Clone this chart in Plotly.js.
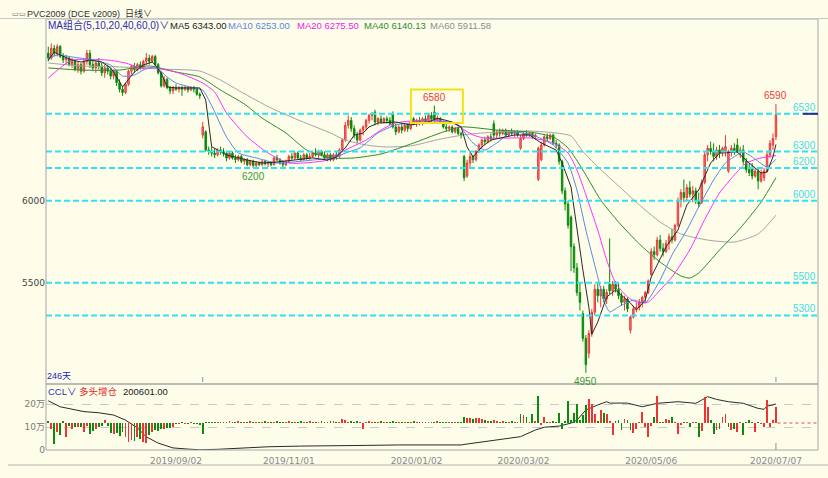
<!DOCTYPE html>
<html><head><meta charset="utf-8">
<script src="https://cdn.plot.ly/plotly-3.0.1.min.js"></script>
<style>html,body{margin:0;padding:0;background:#fdfdea;}#chart{width:828px;height:478px;}</style>
</head><body><div id="chart"></div>
<script>
// ---------- data ----------
const tickIdx = [43, 81, 124, 160, 203, 245];
const tickLabels = ['2019/09/02', '2019/11/01', '2020/01/02', '2020/03/02', '2020/05/06', '2020/07/07'];

const opens = [
6900,6870,6930,6900,6940,6880,6860,6870,6830,6850,
6800,6830,6790,6850,6900,6830,6810,6840,6820,6780,
6810,6790,6760,6790,6720,6680,6660,6710,6790,6820,
6800,6830,6810,6850,6870,6850,6880,6830,6780,6700,
6740,6690,6670,6690,6680,6690,6680,6690,6675,6690,
6680,6650,6400,6420,6310,6300,6290,6280,6310,6300,
6290,6260,6290,6260,6250,6270,6240,6250,6220,6240,
6215,6230,6220,6240,6225,6230,6220,6260,6250,6230,
6220,6240,6270,6260,6290,6260,6250,6280,6260,6270,
6290,6280,6300,6280,6260,6280,6250,6280,6270,6310,
6370,6460,6490,6440,6400,6370,6430,6450,6490,6520,
6540,6480,6500,6480,6500,6490,6530,6450,6420,6450,
6430,6460,6440,6500,6470,6490,6470,6500,6480,6520,
6540,6490,6500,6480,6450,6440,6450,6420,6440,6410,
6270,6150,6230,6270,6250,6300,6340,6370,6360,6390,
6470,6400,6420,6410,6430,6400,6420,6410,6420,6320,
6380,6410,6400,6410,6390,6130,6250,6340,6390,6380,
6400,6350,6340,6240,6060,5980,5900,5720,5590,5440,
5310,5160,5070,5190,5320,5460,5420,5460,5400,5490,
5450,5490,5460,5420,5380,5400,5210,5290,5340,5350,
5380,5410,5440,5550,5690,5670,5760,5710,5690,5740,
5780,5760,5850,6000,6050,6020,6080,6040,6060,6000,
5990,6110,6280,6320,6300,6270,6310,6290,6290,6180,
6300,6320,6340,6300,6310,6240,6190,6200,6150,6180,
6120,6140,6180,6280,6340,6390];
const highs = [
6940,6960,6950,6955,6950,6900,6890,6880,6870,6860,
6850,6840,6870,6920,6920,6860,6850,6870,6840,6830,
6830,6810,6800,6800,6740,6700,6720,6800,6830,6840,
6840,6850,6860,6900,6890,6890,6890,6840,6790,6760,
6750,6700,6700,6710,6700,6700,6700,6700,6700,6700,
6690,6660,6480,6430,6330,6330,6320,6320,6330,6320,
6300,6300,6300,6280,6280,6280,6260,6260,6250,6250,
6240,6240,6250,6250,6240,6240,6270,6280,6260,6245,
6250,6280,6290,6300,6300,6280,6290,6290,6290,6300,
6320,6310,6310,6300,6290,6290,6290,6300,6320,6380,
6480,6520,6510,6460,6420,6440,6460,6500,6530,6540,
6555,6510,6520,6510,6515,6510,6545,6470,6460,6470,
6470,6470,6490,6510,6500,6510,6510,6520,6530,6540,
6580,6520,6510,6490,6470,6460,6460,6450,6450,6420,
6280,6250,6290,6280,6310,6350,6380,6390,6400,6410,
6490,6430,6440,6440,6440,6430,6440,6430,6430,6400,
6420,6430,6420,6420,6410,6330,6360,6400,6410,6410,
6410,6370,6350,6250,6080,6000,5910,5740,5620,5500,
5330,5180,5210,5340,5490,5500,5480,5480,5460,5770,
5510,5510,5500,5440,5420,5410,5300,5360,5380,5400,
5420,5450,5520,5710,5720,5780,5790,5740,5760,5800,
5830,5860,6020,6070,6130,6100,6120,6090,6080,6050,
6130,6300,6340,6360,6350,6330,6340,6330,6400,6310,
6340,6350,6380,6330,6340,6260,6230,6230,6200,6200,
6190,6200,6300,6370,6410,6590];
const lows = [
6850,6860,6880,6880,6870,6840,6830,6820,6810,6790,
6780,6770,6780,6830,6810,6790,6780,6800,6760,6750,
6770,6740,6740,6700,6660,6640,6650,6700,6770,6780,
6790,6800,6800,6830,6830,6840,6820,6770,6690,6690,
6680,6650,6650,6670,6660,6640,6670,6660,6670,6660,
6640,6620,6380,6300,6280,6270,6260,6270,6280,6270,
6240,6250,6250,6230,6240,6230,6220,6210,6210,6200,
6205,6210,6210,6215,6205,6210,6215,6240,6220,6205,
6210,6230,6250,6250,6250,6240,6245,6250,6250,6260,
6270,6260,6270,6250,6240,6240,6240,6250,6260,6300,
6360,6440,6420,6380,6350,6360,6400,6430,6470,6490,
6460,6460,6470,6470,6470,6460,6440,6400,6410,6410,
6420,6420,6430,6460,6450,6460,6460,6470,6470,6480,
6480,6470,6470,6440,6420,6420,6410,6410,6400,6380,
6120,6140,6200,6230,6240,6290,6320,6340,6350,6360,
6380,6380,6390,6400,6390,6390,6400,6390,6390,6310,
6370,6390,6390,6380,6370,6120,6240,6330,6360,6370,
6340,6320,6220,6040,5940,5830,5570,5560,5420,5330,
5140,4950,5040,5170,5300,5380,5350,5380,5370,5430,
5420,5440,5400,5360,5330,5320,5190,5280,5320,5330,
5350,5380,5430,5540,5640,5660,5690,5660,5680,5700,
5740,5750,5840,5960,5990,6000,6020,5990,5980,5960,
5980,6100,6240,6280,6240,6250,6260,6270,6270,6170,
6270,6280,6290,6260,6220,6170,6150,6130,6140,6070,
6110,6120,6170,6260,6310,6370];
const closes = [
6870,6930,6900,6940,6880,6860,6870,6830,6850,6800,
6830,6790,6850,6900,6830,6810,6840,6820,6780,6810,
6790,6760,6790,6720,6680,6660,6710,6790,6820,6800,
6830,6810,6850,6870,6850,6880,6830,6780,6700,6740,
6690,6670,6690,6680,6690,6680,6690,6675,6690,6680,
6650,6640,6450,6310,6300,6290,6280,6310,6300,6290,
6260,6290,6260,6250,6270,6240,6250,6220,6240,6215,
6230,6220,6240,6225,6230,6220,6260,6250,6230,6220,
6240,6270,6260,6290,6260,6250,6280,6260,6270,6290,
6280,6300,6280,6260,6280,6250,6280,6270,6310,6370,
6460,6490,6440,6400,6370,6430,6450,6490,6520,6530,
6480,6500,6480,6500,6490,6470,6450,6420,6450,6430,
6460,6440,6480,6470,6490,6470,6500,6480,6520,6500,
6490,6500,6480,6450,6440,6450,6420,6440,6410,6400,
6140,6230,6270,6250,6300,6340,6370,6360,6390,6380,
6400,6420,6410,6430,6400,6420,6410,6420,6400,6380,
6410,6400,6410,6390,6400,6320,6340,6390,6380,6400,
6350,6340,6240,6060,5980,5850,5720,5590,5440,5380,
5160,5000,5190,5320,5460,5420,5460,5400,5440,5450,
5490,5460,5420,5380,5400,5340,5290,5340,5350,5380,
5410,5440,5510,5690,5670,5760,5710,5690,5740,5780,
5760,5850,6000,6050,6020,6080,6040,6060,6000,5980,
6110,6280,6320,6300,6270,6310,6290,6320,6330,6300,
6320,6300,6300,6310,6240,6190,6170,6150,6180,6120,
6170,6180,6280,6350,6380,6530];

// moving averages (bar index, value)
const ma5Idx = [0,2,4,8,11,14,18,21,23,25,27,29,32,35,36,38,40,43,51,53,55,60,67,72,77,83,89,94,97,100,103,106,108,111,117,122,128,131,136,139,141,143,146,149,154,157,162,166,171,173,176,178,180,182,183,185,188,191,196,198,201,203,208,212,215,219,223,226,232,236,240,242,244,245];
const ma5Val = [6858,6905,6889,6858,6846,6858,6846,6810,6755,6694,6740,6785,6828,6846,6828,6779,6694,6688,6688,6614,6330,6279,6248,6230,6236,6248,6261,6248,6267,6322,6400,6413,6450,6474,6480,6462,6480,6504,6480,6450,6328,6267,6328,6370,6389,6401,6401,6352,6309,6230,6084,5821,5577,5352,5185,5260,5413,5455,5376,5333,5394,5535,5718,5821,5974,6065,6230,6291,6297,6230,6169,6175,6267,6343];
const ma10Idx = [0,3,8,15,21,25,29,32,36,40,43,49,52,55,60,64,70,77,89,96,101,105,111,117,122,134,138,143,147,151,156,163,170,175,178,181,185,187,189,192,197,201,206,210,215,219,224,228,234,237,242,245];
const ma10Val = [6870,6889,6877,6858,6828,6760,6767,6797,6816,6755,6718,6688,6675,6580,6389,6291,6261,6230,6248,6261,6297,6322,6413,6462,6474,6480,6462,6352,6309,6352,6419,6401,6340,6230,6065,5821,5535,5394,5321,5352,5394,5376,5516,5669,5821,5962,6126,6230,6297,6267,6206,6253];
const ma20Idx = [0,4,8,20,26,31,36,44,52,56,60,67,74,81,94,100,107,112,117,128,136,143,147,154,163,170,175,178,181,185,188,191,195,198,202,206,210,216,221,226,231,235,240,245];
const ma20Val = [6748,6810,6858,6858,6840,6810,6810,6779,6718,6663,6535,6389,6291,6230,6248,6309,6370,6431,6474,6492,6474,6401,6382,6382,6382,6352,6291,6187,6035,5821,5638,5498,5413,5382,5382,5455,5535,5700,5885,6047,6157,6230,6261,6275.5];
const ma40Idx = [0,11,24,34,43,51,58,66,72,80,87,95,103,112,123,132,139,151,162,170,175,180,186,192,199,206,213,216,219,226,233,240,245];
const ma40Val = [6810,6797,6797,6822,6785,6755,6675,6590,6504,6413,6309,6261,6261,6285,6352,6413,6450,6431,6419,6389,6322,6187,6004,5870,5736,5626,5541,5528,5559,5699,5833,5992,6140.13];
const ma60Idx = [0,11,24,38,51,58,65,75,85,95,100,107,113,122,132,142,152,162,171,176,180,186,192,199,206,213,222,231,239,245];
const ma60Val = [6840,6822,6816,6803,6791,6736,6663,6565,6486,6413,6370,6340,6328,6334,6376,6407,6419,6425,6413,6395,6300,6190,6090,5974,5870,5797,5760,5748,5797,5911.58];

// open interest (CCL) line and daily change bars
const oiIdx = [0,4,12,17,22,26,30,33,37,42,47,51,57,62,68,74,85,96,107,118,125,139,141,150,159,164,167,172,176,178,181,185,188,189,195,200,205,212,218,220,222,225,229,234,239,241,242,244,245];
const oiVal = [214000,188000,167000,162000,152000,130000,96000,57000,30000,9000,4000,1000,3000,7000,12000,14000,17000,17000,20000,22000,21000,22000,26000,43000,58000,87000,99000,104000,117000,130000,174000,196000,210000,204000,204000,188000,203000,210000,203000,217000,232000,220000,210000,203000,181000,177000,191000,196000,200601];
const oiChg = [
1000,-3000,-10500,-4500,-6000,1000,-7000,-1500,-3000,-2000,
-2000,-2000,-4500,-1500,-5500,-4000,-3000,-2000,-1500,1500,
-1500,-5000,-5500,-5000,-6500,-4500,-7000,-9500,-8500,-9000,
-7000,-8000,-9500,-10000,-6000,-4500,-3500,-4000,-3000,-3000,
-2500,-2500,-2000,-500,-500,300,-500,-300,300,-500,
-500,-1000,-5500,300,500,300,500,300,500,300,
500,800,300,500,800,500,300,500,800,500,
300,500,300,800,500,300,500,800,500,300,
500,800,500,300,500,1000,500,300,800,500,
500,300,1000,500,300,800,1000,500,300,2000,
1500,500,800,500,800,300,-3000,500,1000,500,
300,500,800,500,300,500,800,500,300,500,
500,300,500,800,500,300,500,300,500,300,
500,800,300,500,300,500,300,500,500,300,
3000,2500,2500,2000,2500,2500,2000,1500,1000,800,
1500,1000,500,1000,500,500,800,500,500,4500,
4000,3000,500,4500,1000,13500,-1000,3000,500,500,
800,500,5000,-3000,1000,11000,1500,5000,9500,1500,
4000,9000,12000,9500,4500,1000,6500,5000,4500,1000,
-6000,1000,1500,-3500,2000,1500,-3500,-5000,-3000,500,
5500,-2000,-7000,-1500,3000,13500,500,500,2000,1500,
3000,500,-5500,-1000,500,500,-2000,500,500,-7000,
-4000,13000,8000,1500,-5500,-3500,-3000,3000,4500,-2000,
-3500,-3000,-4500,500,-6000,500,1500,500,-4500,500,
-500,-2000,11500,-2000,1500,8000];

// marked highs/lows and reference price levels
const markIdx = [130, 245, 69, 181];
const markKind = ['high', 'high', 'low', 'low'];
const levels = [6530, 6300, 6200, 6000, 5500, 5300];

// ---------- drawing ----------
const W = 828, H = 478, ML = 46, MR = 10, MT = 19, MB = 28;
const PW = W - ML - MR, PH = H - MT - MB;
const P = px => (px - ML) / PW;           // pixel -> paper x
const Q = py => (H - MB - py) / PH;       // pixel -> paper y
const split = Q(384);
const idx = closes.map((_, i) => i);
const xr = [-0.774, -0.774 + PW / 2.97];

const RED = '#ec3434', GREEN = '#0b8a0b';
const FONT = 'Liberation Sans, Noto Sans CJK SC, sans-serif';

const traces = [
  {type: 'candlestick', x: idx, open: opens, high: highs, low: lows, close: closes,
   xaxis: 'x', yaxis: 'y', whiskerwidth: 0, hoverinfo: 'skip',
   increasing: {line: {color: '#e83a3a', width: 1}, fillcolor: '#f47d7d'},
   decreasing: {line: {color: GREEN, width: 1}, fillcolor: GREEN}},
  {type: 'scatter', mode: 'lines', x: ma60Idx, y: ma60Val, yaxis: 'y', line: {color: '#a4a4a4', width: 1, shape: 'spline', smoothing: 0.6}, hoverinfo: 'skip'},
  {type: 'scatter', mode: 'lines', x: ma40Idx, y: ma40Val, yaxis: 'y', line: {color: '#2e8b2e', width: 1, shape: 'spline', smoothing: 0.6}, hoverinfo: 'skip'},
  {type: 'scatter', mode: 'lines', x: ma20Idx, y: ma20Val, yaxis: 'y', line: {color: '#ff30ff', width: 1, shape: 'spline', smoothing: 0.6}, hoverinfo: 'skip'},
  {type: 'scatter', mode: 'lines', x: ma10Idx, y: ma10Val, yaxis: 'y', line: {color: '#5a86e8', width: 1, shape: 'spline', smoothing: 0.5}, hoverinfo: 'skip'},
  {type: 'scatter', mode: 'lines', x: ma5Idx, y: ma5Val, yaxis: 'y', line: {color: '#2a2a2a', width: 1}, hoverinfo: 'skip'},
  {type: 'bar', x: idx, y: oiChg, yaxis: 'y3', width: 0.62, hoverinfo: 'skip',
   marker: {color: closes.map((c, i) => (i === 0 ? c >= opens[0] : c >= closes[i - 1]) ? RED : GREEN), line: {width: 0}}},
  {type: 'scatter', mode: 'lines', x: oiIdx, y: oiVal, yaxis: 'y2', line: {color: '#2a2a2a', width: 1}, hoverinfo: 'skip'}
];

const shapes = [];
levels.forEach(v => shapes.push({type: 'line', xref: 'paper', x0: 0, x1: 1, yref: 'y', y0: v, y1: v,
  line: {color: '#2fe2f2', width: 2, dash: '6px,3px'}, layer: 'above'}));
// highlight box around the January top
shapes.push({type: 'rect', xref: 'x', x0: 122.1, x1: 139.6, yref: 'y', y0: 6474, y1: 6678,
  line: {color: '#f2e21a', width: 2}, fillcolor: 'rgba(0,0,0,0)'});
// panel frames
shapes.push({type: 'rect', xref: 'paper', yref: 'paper', x0: 0, x1: 1, y0: split, y1: 1, line: {color: '#a6a6a6', width: 1}});
shapes.push({type: 'rect', xref: 'paper', yref: 'paper', x0: 0, x1: 1, y0: 0, y1: split, line: {color: '#a6a6a6', width: 1}});
shapes.push({type: 'line', xref: 'paper', yref: 'paper', x0: P(0), x1: P(828), y0: Q(18.5), y1: Q(18.5), line: {color: '#c8c8c8', width: 1}});
shapes.push({type: 'line', xref: 'paper', yref: 'paper', x0: P(8), x1: P(828), y0: Q(465), y1: Q(465), line: {color: '#b4b4b4', width: 1}});
// zero reference of the change bars beyond the last bar
shapes.push({type: 'line', xref: 'x', x0: idx.length - 0.5, x1: xr[1], yref: 'y3', y0: 0, y1: 0, line: {color: '#e04848', width: 1, dash: 'dot'}});
// current-price marker on the right edge
shapes.push({type: 'line', xref: 'paper', x0: P(803), x1: 1, yref: 'y', y0: closes[closes.length - 1], y1: closes[closes.length - 1], line: {color: '#2a2a9a', width: 2}});
// small cursor ticks
[52, idx.length - 1].forEach(i => shapes.push({type: 'line', xref: 'x', x0: i, x1: i, yref: 'paper', y0: Q(382), y1: Q(377), line: {color: '#909090', width: 1}}));
shapes.push({type: 'line', xref: 'x', x0: idx.length - 1, x1: idx.length - 1, yref: 'paper', y0: Q(450), y1: Q(443), line: {color: '#909090', width: 1}});

const ann = [];
const txt = (px, py, text, color, size, anchor) => ann.push({xref: 'paper', yref: 'paper', x: P(px), y: Q(py),
  xanchor: anchor || 'left', yanchor: 'middle', text: text, showarrow: false, font: {family: FONT, size: size || 9, color: color}});
txt(10, 13, '▭▭', '#666', 7);
txt(25, 13, 'PVC2009 (DCE v2009)  日线∨', '#333', 9);
txt(46, 25.5, 'MA组合(5,10,20,40,60,0)∨', '#2b2bb0', 10);
txt(168, 25.5, 'MA5 ' + ma5Val[ma5Val.length - 1].toFixed(2), '#222', 9.5);
txt(226, 25.5, 'MA10 ' + ma10Val[ma10Val.length - 1].toFixed(2), '#5a86e8', 9.5);
txt(295, 25.5, 'MA20 ' + ma20Val[ma20Val.length - 1].toFixed(2), '#f020f0', 9.5);
txt(362, 25.5, 'MA40 ' + ma40Val[ma40Val.length - 1].toFixed(2), '#2e8b2e', 9.5);
txt(428, 25.5, 'MA60 ' + ma60Val[ma60Val.length - 1].toFixed(2), '#8e8e8e', 9.5);
txt(45, 376, closes.length + '天', '#2424c4', 9);
txt(46, 391, 'CCL∨', '#2434b4', 9.5);
txt(77, 391, '多头增仓', '#e42a2a', 9.5);
txt(121, 391, oiVal[oiVal.length - 1].toFixed(2), '#222', 9.5);
levels.forEach(v => ann.push({xref: 'paper', x: 1, xanchor: 'right', yref: 'y', y: v, yanchor: 'bottom', yshift: -1,
  text: String(v), showarrow: false, font: {family: FONT, size: 10, color: '#46dbe8'}}));
markIdx.forEach((i, k) => {
  const hi = markKind[k] === 'high';
  ann.push({xref: 'x', x: i, yref: 'y', y: hi ? highs[i] : lows[i], yanchor: hi ? 'bottom' : 'top', yshift: hi ? 1 : -1,
    text: String(hi ? highs[i] : lows[i]), showarrow: false, font: {family: FONT, size: 10, color: hi ? '#ee3c3c' : '#3c9a3c'}});
});

const layout = {
  width: W, height: H, margin: {l: ML, r: MR, t: MT, b: MB},
  paper_bgcolor: '#fdfdea', plot_bgcolor: '#fdfdea',
  showlegend: false, hovermode: false, dragmode: false,
  font: {family: FONT, size: 9, color: '#555'},
  xaxis: {domain: [0, 1], anchor: 'y2', range: xr, rangeslider: {visible: false},
    tickmode: 'array', tickvals: tickIdx, ticktext: tickLabels, ticks: '', ticklabelstandoff: 4,
    showgrid: false, zeroline: false, showline: false,
    tickfont: {family: 'DejaVu Sans, sans-serif', size: 9, color: '#8a8a8a'}},
  yaxis: {domain: [split, 1], anchor: 'x', range: [4881.9, 7108.4], tickmode: 'array', tickvals: [5500, 6000],
    ticks: '', showgrid: false, zeroline: false, showline: false,
    tickfont: {family: 'DejaVu Sans, sans-serif', size: 9, color: '#444'}},
  yaxis2: {domain: [0, split], anchor: 'x', range: [0, 287000], tickmode: 'array', tickvals: [0, 100000, 200000],
    ticktext: ['0', '10万', '20万'], ticks: '', showgrid: true, gridcolor: '#c8c8c8', griddash: 'dash', gridwidth: 1,
    zeroline: false, showline: false, tickfont: {family: 'DejaVu Sans, Noto Sans CJK SC, sans-serif', size: 9, color: '#7a7a7a'}},
  yaxis3: {overlaying: 'y2', anchor: 'x', range: [-13500, 19500], visible: false, fixedrange: true},
  bargap: 0, shapes: shapes, annotations: ann
};
Plotly.newPlot('chart', traces, layout, {staticPlot: true, displayModeBar: false});
</script></body></html>
